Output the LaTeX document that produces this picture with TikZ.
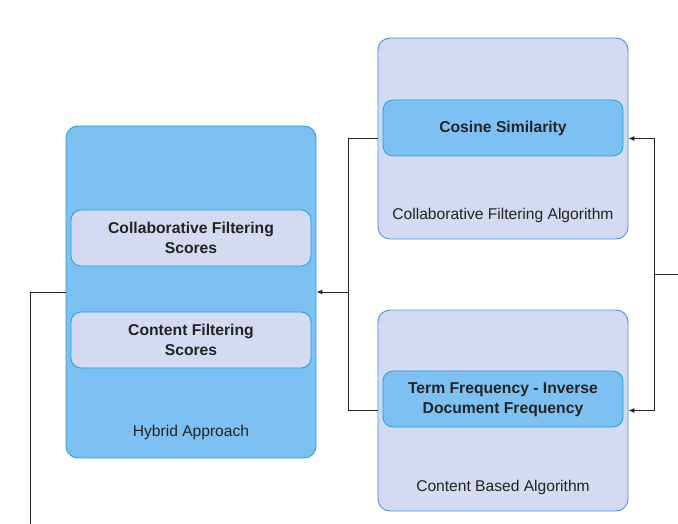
\documentclass[tikz,border=0pt]{standalone}
\usepackage{fontspec}
\setmainfont{Liberation Sans}
\usetikzlibrary{arrows.meta}
\definecolor{skyfill}{RGB}{125,193,242}
\definecolor{skyline}{RGB}{27,161,226}
\definecolor{lavfill}{RGB}{212,218,242}
\definecolor{lavline}{RGB}{78,145,228}
\definecolor{inkgray}{RGB}{35,35,35}
\newcommand{\boxfont}{\fontsize{15.7}{20}\selectfont}
\tikzset{
  panel/.style={draw=lavline, fill=lavfill, rounded corners=12pt, line width=0.9pt, minimum width=250pt, minimum height=201pt},
  hybpanel/.style={draw=skyline, fill=skyfill, rounded corners=12pt, line width=0.9pt, minimum width=250pt, minimum height=332pt},
  algobox/.style={draw=skyline, fill=skyfill, rounded corners=10pt, line width=0.8pt, minimum width=240pt, minimum height=56pt, align=center, font=\boxfont\bfseries, text=inkgray},
  scorebox/.style={draw=skyline, fill=lavfill, rounded corners=10pt, line width=0.8pt, minimum width=240pt, minimum height=56pt, align=center, font=\boxfont\bfseries, text=inkgray},
  caption/.style={text=inkgray, font=\fontsize{15.6}{18}\selectfont},
  conn/.style={draw=inkgray, line width=1pt},
  tip/.style={-{Latex[length=6pt,width=5pt]}}
}
\begin{document}
\begin{tikzpicture}[x=1pt, y=-1pt]
\useasboundingbox (0,0) rectangle (678,524);
% hybrid side
\node[hybpanel] (hyb) at (191,292) {}; \node[caption] (hyblabel) at (191,432) {Hybrid Approach};
\node[scorebox] (cfs) at (191,238) {Collaborative Filtering\\Scores};
\node[scorebox] (cts) at (191,340) {Content Filtering\\Scores};
% algorithm side
\node[panel] (cfa) at (503,138.5) {}; \node[caption] (cfalabel) at (503,215) {Collaborative Filtering Algorithm};
\node[algobox] (cos) at (503,128) {Cosine Similarity};
\node[panel] (cba) at (503,410.5) {}; \node[caption] (cbalabel) at (503,487) {Content Based Algorithm};
\node[algobox, inner ysep=0pt, text depth=1pt] (tfidf) at (503,399) {Term Frequency - Inverse\\Document Frequency};
% connectors
\coordinate (j1) at (348,292);
\coordinate (j2) at (654,274);
\coordinate (in) at (678,274);
\coordinate (out) at (30,524);
\draw[conn,tip] (cfa.west) -| (j1) -- (hyb.east);
\draw[conn] (cba.west) -| (j1);
\draw[conn,tip] (in) -- (j2) |- (cfa.east);
\draw[conn,tip] (j2) |- (cba.east);
\draw[conn] (hyb.west) -| (out);
\end{tikzpicture}
\end{document}
